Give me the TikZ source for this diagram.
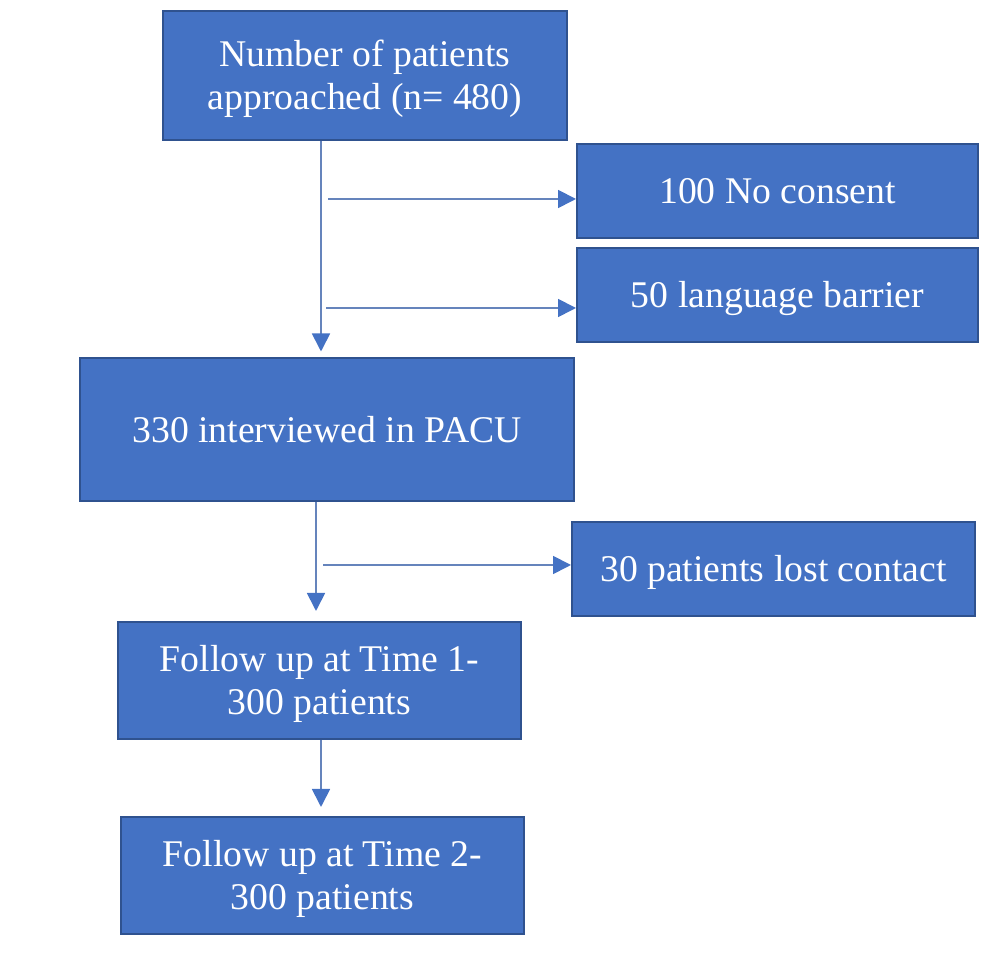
\documentclass[tikz,border=0pt]{standalone}
\usepackage{fontspec}
\setmainfont{Liberation Serif}
\usetikzlibrary{arrows.meta,calc}
\definecolor{boxfill}{HTML}{4472C4}
\definecolor{boxedge}{HTML}{2F528F}
\definecolor{linecol}{HTML}{6584BC}
\tikzset{
  flowbox/.style={draw=boxedge, line width=2pt, fill=boxfill, text=white,
    align=center, inner sep=0pt, text height=33.6pt, text depth=8.2pt,
    font=\fontsize{37.7}{43}\selectfont},
  twoline/.style={text height=76.6pt},
  arr/.style={draw=linecol, line width=1.8pt,
    -{Triangle[length=18pt,width=18pt,color=boxfill]}}
}
\begin{document}
\begin{tikzpicture}[x=1pt,y=1pt]
\useasboundingbox (0,0) rectangle (986,971);
% boxes (y = 971 - pixel y)
\node[flowbox, twoline, minimum width=404pt, minimum height=129pt] (b1) at (365,895.5) {Number of patients\\approached (n= 480)};
\node[flowbox, minimum width=401pt, minimum height=94pt] (b2) at (777.5,780) {100 No consent};
\node[flowbox, minimum width=401pt, minimum height=94pt] (b3) at (777.5,676) {50 language barrier};
\node[flowbox, minimum width=494pt, minimum height=143pt] (b4) at (327,541) {330 interviewed in PACU};
\node[flowbox, minimum width=403pt, minimum height=94pt] (b5) at (773.5,402) {30 patients lost contact};
\node[flowbox, twoline, minimum width=403pt, minimum height=117pt] (b6) at (319.5,290.5) {Follow up at Time 1-\\300 patients};
\node[flowbox, twoline, minimum width=403pt, minimum height=117pt] (b7) at (322.5,95.5) {Follow up at Time 2-\\300 patients};
% connector guides
\coordinate (v1) at (321,0);
\coordinate (v2) at (316,0);
\coordinate (v3) at (321,0);
\coordinate (s1) at (328,772);
\coordinate (s2) at (326,663);
\coordinate (s3) at (323,406);
% connectors
\draw[arr, shorten >=6pt] (b1.south -| v1) -- (b4.north -| v1);
\draw[arr] (s1) -- (s1 -| b2.west);
\draw[arr] (s2) -- (s2 -| b3.west);
\draw[arr, shorten >=10pt] (b4.south -| v2) -- (b6.north -| v2);
\draw[arr] (s3) -- (s3 -| b5.west);
\draw[arr, shorten >=9pt] (b6.south -| v3) -- (b7.north -| v3);
\end{tikzpicture}
\end{document}
